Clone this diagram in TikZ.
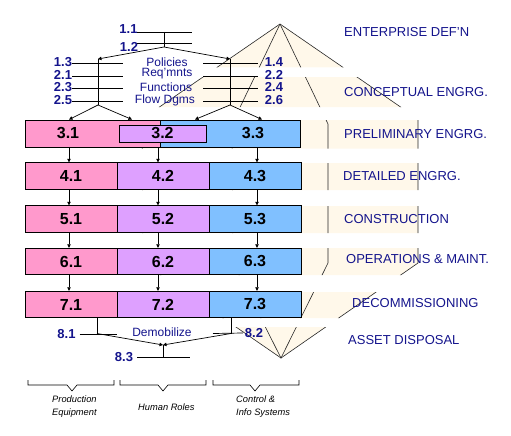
\documentclass[tikz,border=0pt]{standalone}
\usepackage{fontspec}
\setmainfont{Liberation Sans}
\usetikzlibrary{arrows.meta}
\definecolor{navy}{RGB}{20,20,140}
\definecolor{pinkc}{RGB}{255,153,204}
\definecolor{purpc}{RGB}{222,160,255}
\definecolor{bluec}{RGB}{128,192,255}
\definecolor{cream}{RGB}{255,248,234}
\tikzset{
 hg/.style={draw=black!85, line width=0.6pt},
 ln/.style={draw=black, line width=0.7pt},
 arr/.style={ln, -{Triangle[length=3.5pt,width=3.5pt]}},
 cell/.style={draw=black, line width=0.9pt, inner sep=0pt, font=\fontsize{16}{16}\selectfont\bfseries},
 boxlab/.style={inner sep=0pt, font=\fontsize{16}{16}\selectfont\bfseries},
 bnum/.style={text=navy, font=\fontsize{13}{13}\selectfont\bfseries, inner sep=0pt},
 clab/.style={text=navy, font=\fontsize{12}{12}\selectfont, inner sep=0pt},
 phase/.style={text=navy, font=\fontsize{13}{13}\selectfont, anchor=west, inner sep=0pt},
 ital/.style={font=\fontsize{9.3}{12.5}\selectfont\itshape, align=left, anchor=west, inner sep=0pt},
 brace/.style={draw=black, line width=0.6pt},
}
\begin{document}
\begin{tikzpicture}[x=1pt,y=-1pt]
\useasboundingbox (0,0) rectangle (511,436);
% hourglass background
\begin{scope}
\clip (0,24) rectangle (511,67.5) (0,77) rectangle (511,107) (0,120) rectangle (511,148.5)
      (0,163) rectangle (511,190) (0,206) rectangle (511,233) (0,248) rectangle (511,275)
      (0,292) rectangle (511,318) (0,327) rectangle (511,360);
\fill[cream] (280,24) -- (418,119) -- (418,263) -- (281,358) -- (143,263) -- (142,119) -- cycle;
\draw[hg] (280,24) -- (418,119) -- (418,263) -- (281,358) -- (143,263) -- (142,119) -- cycle;
\draw[hg] (280,24) -- (328,124) -- (328,263) -- (281,358) -- (233,263) -- (232,124) -- cycle;
\end{scope}

% phase labels
\node[phase] (p1) at (344,32) {ENTERPRISE DEF'N};
\node[phase] (p2) at (344,92) {CONCEPTUAL ENGRG.};
\node[phase] (p3) at (344,134) {PRELIMINARY ENGRG.};
\node[phase] (p4) at (343,176) {DETAILED ENGRG.};
\node[phase] (p5) at (344,219) {CONSTRUCTION};
\node[phase] (p6) at (346,259) {OPERATIONS \& MAINT.};
\node[phase] (p7) at (352,303) {DECOMMISSIONING};
\node[phase] (p8) at (348,340) {ASSET DISPOSAL};

% top tree
\node[bnum] (n11) at (128.5,29) {1.1};
\node[bnum] (n12) at (129,47) {1.2};
\coordinate (e11) at (192,32);
\coordinate (e12) at (192,43);
\coordinate (s11) at (137,32);
\coordinate (s12) at (137,43);
\coordinate (j1) at (164,32);
\coordinate (j2) at (164,47);
\draw[ln] (s11) -- (e11);
\draw[ln] (s12) -- (e12);
\draw[ln] (j1) -- (j2);
\coordinate (vl1) at (98,59);
\coordinate (vl2) at (98,105);
\coordinate (vr1) at (230,59);
\coordinate (vr2) at (230,105);
\draw[arr] (j2) -- (vl1);
\draw[arr] (j2) -- (vr1);
\draw[ln] (vl1) -- (vl2);
\draw[ln] (vr1) -- (vr2);

% left and right numbered lines
\foreach \nm/\yy in {a/63, b/76, c/88.5, d/101}{
  \coordinate (L\nm1) at (72,\yy);
  \coordinate (L\nm2) at (123,\yy);
  \coordinate (R\nm1) at (203,\yy);
  \coordinate (R\nm2) at (258,\yy);
  \draw[ln] (L\nm1) -- (L\nm2);
  \draw[ln] (R\nm1) -- (R\nm2);
}
\node[bnum] (n13) at (63,62) {1.3};
\node[bnum] (n21) at (63,74.5) {2.1};
\node[bnum] (n23) at (63,87) {2.3};
\node[bnum] (n25) at (63,100) {2.5};
\node[bnum] (n14) at (274,62) {1.4};
\node[bnum] (n22) at (274,74.5) {2.2};
\node[bnum] (n24) at (274,87) {2.4};
\node[bnum] (n26) at (274,100) {2.6};
\node[clab] (pol) at (167,62) {Policies};
\node[clab] (req) at (167,74) {Req'mnts};
\node[clab] (fun) at (166,87) {Functions};
\node[clab] (flo) at (165,100) {Flow Dgms};

% boxes row 3
\node[cell, fill=pinkc, minimum width=135pt, minimum height=27pt] (c31) at (92.5,133.5) {};
\node[cell, fill=bluec, minimum width=140pt, minimum height=27pt] (c33) at (230.5,133.5) {};
\node[cell, fill=purpc, minimum width=87pt, minimum height=17pt] (c32) at (162.5,133.5) {};
\node[boxlab] (t31) at (68,133.5) {3.1};
\node[boxlab] (t32) at (c32) {3.2};
\node[boxlab] (t33) at (253,133.5) {3.3};

\coordinate (x1) at (69,0);
\coordinate (x2) at (158,0);
\coordinate (x3) at (257,0);
\draw[arr] (vl2) -- (x1 |- c31.north);
\draw[arr] (vl2) -- (132,119.5);
\draw[arr] (vr2) -- (195,119.5);
\draw[arr] (vr2) -- (262,119.5);

% rows 4-7
\foreach \r/\yc in {4/176, 5/219, 6/261.5, 7/304.5}{
  \node[cell, fill=pinkc, minimum width=92pt, minimum height=26.5pt] (c\r1) at (71,\yc) {\r.1};
  \node[cell, fill=purpc, minimum width=92pt, minimum height=26.5pt] (c\r2) at (163,\yc) {\r.2};
  \node[cell, fill=bluec, minimum width=92pt, minimum height=26.5pt] (c\r3) at (255,\yc) {\r.3};
}
% vertical arrows
\draw[arr] (c31.south -| x1) -- (c41.north -| x1);
\draw[arr] (c31.south -| x2) -- (c42.north -| x2);
\draw[arr] (c33.south -| x3) -- (c43.north -| x3);
\foreach \a/\b in {4/5, 5/6, 6/7}{
  \draw[arr] (c\a1.south -| x1) -- (c\b1.north -| x1);
  \draw[arr] (c\a2.south -| x2) -- (c\b2.north -| x2);
  \draw[arr] (c\a3.south -| x3) -- (c\b3.north -| x3);
}

% disposal
\coordinate (d1) at (97,333.5);
\coordinate (d2) at (231,333.5);
\coordinate (d3) at (163,345);
\coordinate (d4) at (163,357);
\draw[ln] (c71.south -| d1) -- (d1);
\draw[ln] (c73.south -| d2) -- (d2);
\draw[arr] (d1) -- (d3);
\draw[arr] (d2) -- (d3);
\draw[ln] (d3) -- (d4);
\node[bnum] (n81) at (66.5,334) {8.1};
\node[bnum] (n82) at (254,333) {8.2};
\node[bnum] (n83) at (124,357) {8.3};
\draw[ln] (n81.east) ++(4,0) -- (117,334);
\draw[ln] (213,333.5) -- ([xshift=-2pt]n82.west);
\draw[ln] ([xshift=4pt]n83.east) -- (190,357);
\node[clab] (demob) at (162,332) {Demobilize};

% braces
\draw[brace] (28,380) -- (28,385) -- (67,385) -- (72,391) -- (77,385) -- (114,385) -- (114,380);
\draw[brace] (120,380) -- (120,385) -- (158,385) -- (163,391) -- (168,385) -- (206,385) -- (206,380);
\draw[brace] (213,380) -- (213,385) -- (250,385) -- (255,391) -- (260,385) -- (299,385) -- (299,380);
\node[ital] (g1) at (52,406.5) {Production\\Equipment};
\node[ital] (g2) at (138,407) {Human Roles};
\node[ital] (g3) at (236,406.5) {Control \&\\Info Systems};
\end{tikzpicture}
\end{document}
